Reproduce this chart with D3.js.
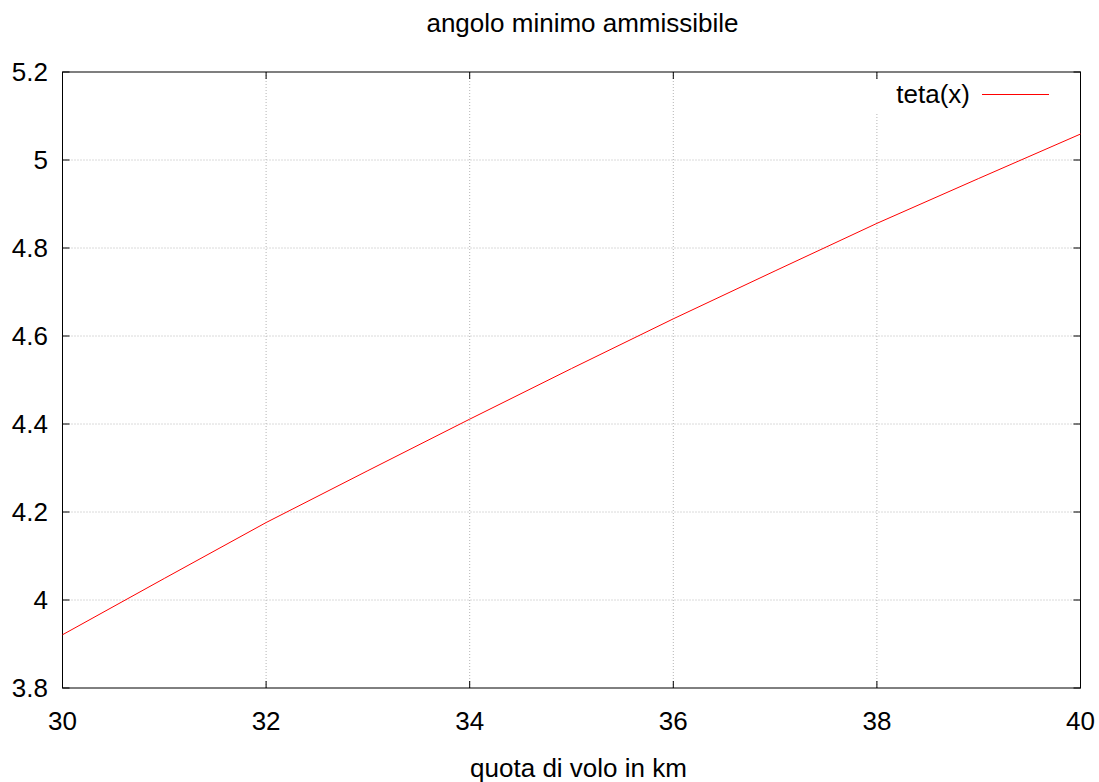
<!DOCTYPE html>
<html>
<head>
<meta charset="utf-8">
<script src="https://cdn.jsdelivr.net/npm/d3@7"></script>
<style>
  body { margin: 0; background: #fff; }
  text { font-family: "Liberation Sans", Arial, sans-serif; fill: #000; }
</style>
</head>
<body>
<div id="chart"></div>
<script>
// values
var quota = [30, 31, 32, 33, 34, 35, 36, 37, 38, 39, 40];
var teta = [3.921, 4.049, 4.176, 4.294, 4.411, 4.526, 4.639, 4.748, 4.856, 4.958, 5.059];
var xTicks = [30, 32, 34, 36, 38, 40];
var yTicks = [3.8, 4, 4.2, 4.4, 4.6, 4.8, 5, 5.2];

var width = 1099, height = 782;
var margin = { top: 72, right: 18.5, bottom: 94, left: 62.5 };

var svg = d3.select("#chart").append("svg")
  .attr("width", width)
  .attr("height", height);

var x = d3.scaleLinear().domain([30, 40]).range([margin.left, width - margin.right]);
var y = d3.scaleLinear().domain([3.8, 5.2]).range([height - margin.bottom, margin.top]);

// grid
svg.append("g").selectAll("line.gx")
  .data(xTicks.slice(1, -1))
  .enter().append("line")
  .attr("x1", function(d) { return x(d); })
  .attr("x2", function(d) { return x(d); })
  .attr("y1", y(3.8)).attr("y2", y(5.2))
  .attr("stroke", "#b4b4b4").attr("stroke-dasharray", "1,2");

svg.append("g").selectAll("line.gy")
  .data(yTicks.slice(1, -1))
  .enter().append("line")
  .attr("y1", function(d) { return y(d); })
  .attr("y2", function(d) { return y(d); })
  .attr("x1", x(30)).attr("x2", x(40))
  .attr("stroke", "#b4b4b4").attr("stroke-dasharray", "1,2");

// key area clears the grid behind it
svg.append("rect")
  .attr("x", 870).attr("y", 80)
  .attr("width", 200).attr("height", 32)
  .attr("fill", "#fff");

// inward ticks on all four sides
var tl = 7;
var ticks = svg.append("g").attr("stroke", "#000").attr("stroke-width", 1);
xTicks.forEach(function(d) {
  ticks.append("line").attr("x1", x(d)).attr("x2", x(d)).attr("y1", y(3.8)).attr("y2", y(3.8) - tl);
  ticks.append("line").attr("x1", x(d)).attr("x2", x(d)).attr("y1", y(5.2)).attr("y2", y(5.2) + tl);
});
yTicks.forEach(function(d) {
  ticks.append("line").attr("y1", y(d)).attr("y2", y(d)).attr("x1", x(30)).attr("x2", x(30) + tl);
  ticks.append("line").attr("y1", y(d)).attr("y2", y(d)).attr("x1", x(40)).attr("x2", x(40) - tl);
});

// border
svg.append("rect")
  .attr("x", x(30)).attr("y", y(5.2))
  .attr("width", x(40) - x(30)).attr("height", y(3.8) - y(5.2))
  .attr("fill", "none").attr("stroke", "#000").attr("stroke-width", 1);

// tick labels
svg.append("g").selectAll("text")
  .data(xTicks)
  .enter().append("text")
  .attr("x", function(d) { return x(d); })
  .attr("y", 730)
  .attr("text-anchor", "middle")
  .attr("font-size", 26)
  .text(function(d) { return d; });

svg.append("g").selectAll("text")
  .data(yTicks)
  .enter().append("text")
  .attr("x", 48)
  .attr("y", function(d) { return y(d); })
  .attr("dy", "0.36em")
  .attr("text-anchor", "end")
  .attr("font-size", 26)
  .text(function(d) { return d; });

// series
var line = d3.line()
  .x(function(d, i) { return x(quota[i]); })
  .y(function(d) { return y(d); });

svg.append("path")
  .datum(teta)
  .attr("d", line)
  .attr("fill", "none")
  .attr("stroke", "#ff0000")
  .attr("stroke-width", 1);

// legend
svg.append("text")
  .attr("x", 970).attr("y", 103)
  .attr("text-anchor", "end")
  .attr("font-size", 26)
  .text("teta(x)");
svg.append("line")
  .attr("x1", 982).attr("x2", 1049)
  .attr("y1", 94.5).attr("y2", 94.5)
  .attr("stroke", "#ff0000");

// titles
svg.append("text")
  .attr("x", 582.5).attr("y", 32)
  .attr("text-anchor", "middle")
  .attr("font-size", 26)
  .text("angolo minimo ammissibile");

svg.append("text")
  .attr("x", 578.5).attr("y", 777)
  .attr("text-anchor", "middle")
  .attr("font-size", 26)
  .text("quota di volo in km");
</script>
</body>
</html>
